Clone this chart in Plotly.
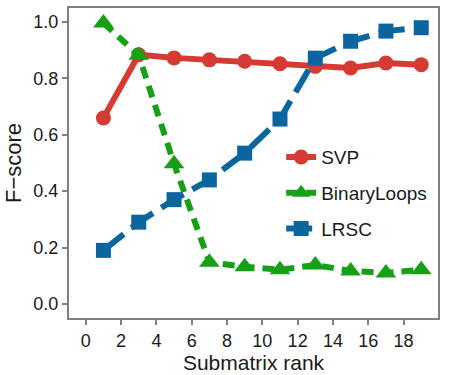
import plotly.graph_objects as go

ranks = [1, 3, 5, 7, 9, 11, 13, 15, 17, 19]
svp = [0.66, 0.884, 0.873, 0.866, 0.861, 0.852, 0.843, 0.837, 0.855, 0.849]
binaryloops = [0.997, 0.882, 0.497, 0.148, 0.132, 0.121, 0.138, 0.117, 0.110, 0.121]
lrsc = [0.19, 0.29, 0.37, 0.44, 0.535, 0.656, 0.872, 0.932, 0.968, 0.980]
x_ticks = [0, 2, 4, 6, 8, 10, 12, 14, 16, 18]
y_ticks = [0.0, 0.2, 0.4, 0.6, 0.8, 1.0]

RED = "#d53a33"
GREEN = "#16a016"
BLUE = "#0b66a0"
FONT = "Liberation Sans, Arial, sans-serif"

fig = go.Figure()
fig.add_trace(go.Scatter(
    x=ranks, y=svp, name="SVP", mode="lines+markers", legendgroup="a",
    line=dict(color=RED, width=6),
    marker=dict(symbol="circle", size=15, color=RED)))
fig.add_trace(go.Scatter(
    x=ranks, y=binaryloops, name="BinaryLoops", mode="lines+markers", legendgroup="b",
    line=dict(color=GREEN, width=6, dash="12px,8px"),
    marker=dict(symbol="triangle-up", size=18, color=GREEN)))
fig.add_trace(go.Scatter(
    x=ranks, y=lrsc, name="LRSC", mode="lines+markers", legendgroup="c",
    line=dict(color=BLUE, width=6, dash="26px,10px"),
    marker=dict(symbol="square", size=15, color=BLUE)))

axis_common = dict(
    showline=True, mirror=True, linecolor="#808080", linewidth=2,
    ticks="outside", ticklen=5, tickwidth=2, tickcolor="#808080",
    showgrid=False, zeroline=False,
    tickfont=dict(family=FONT, size=18, color="#1a1a1a"),
)

fig.update_layout(
    width=450, height=375,
    margin=dict(l=69, r=12, t=6, b=57),
    plot_bgcolor="white", paper_bgcolor="white",
    font=dict(family=FONT, color="#1a1a1a"),
    xaxis=dict(range=[-0.95, 19.95], tickvals=x_ticks,
               title=dict(text="Submatrix rank", font=dict(size=21), standoff=2),
               **axis_common),
    yaxis=dict(range=[-0.05, 1.05], tickvals=y_ticks, tickformat=".1f",
               title=dict(text="F\u2212score", font=dict(size=22), standoff=6),
               **axis_common),
    legend=dict(x=0.575, y=0.58, xanchor="left", yanchor="top",
                bgcolor="rgba(0,0,0,0)", font=dict(size=19),
                itemwidth=30, tracegroupgap=8, traceorder="grouped"),
)

fig.write_html("out.html")
